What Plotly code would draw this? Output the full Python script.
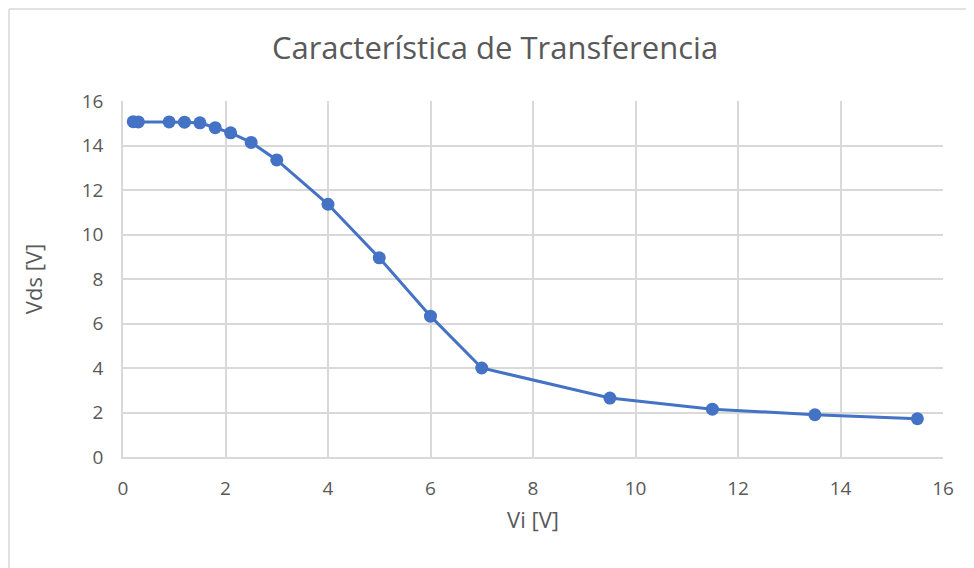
import plotly.graph_objects as go

vi = [0.2, 0.3, 0.9, 1.2, 1.5, 1.8, 2.1, 2.5, 3, 4, 5, 6, 7, 9.5, 11.5, 13.5, 15.5]
vds = [15.07, 15.06, 15.06, 15.05, 15.02, 14.8, 14.57, 14.14, 13.35, 11.36, 8.95, 6.33, 4.0, 2.65, 2.15, 1.9, 1.72]

title_text = "Característica de Transferencia"
x_title = "Vi [V]"
y_title = "Vds [V]"

# page body has an 8px margin, so compensate
OFF = 8
W, H = 974, 568
L, T = 123 - OFF, 101 - OFF
pw, ph = 820, 356
R = W - L - pw
B = H - T - ph

def px(xfig):
    return (xfig - L) / pw

def py(yfig):
    return (H - B - yfig) / ph

fig = go.Figure()
fig.add_trace(go.Scatter(
    x=vi, y=vds, mode="lines+markers",
    line=dict(color="#4472C4", width=3),
    marker=dict(color="#4472C4", size=13),
    showlegend=False,
))

font_family = "Open Sans, Lato, sans-serif"
gray = "#595959"

fig.update_layout(
    width=W, height=H,
    margin=dict(l=L, r=R, t=T, b=B),
    paper_bgcolor="white", plot_bgcolor="white",
    font=dict(family=font_family, color=gray),
    title=dict(text=title_text, x=(495 - OFF) / W, xanchor="center", y=1 - (48 - OFF) / H, yanchor="middle",
               font=dict(size=31, color=gray, family=font_family)),
    xaxis=dict(range=[0, 16], dtick=2, tick0=0, showgrid=True, gridcolor="#d9d9d9", gridwidth=1.5,
               zeroline=False, showline=True, linecolor="#d9d9d9", linewidth=1.5, mirror=False,
               ticks="", tickfont=dict(size=19, color=gray), ticklabelstandoff=13,
               title=dict(text=x_title, font=dict(size=22, color=gray), standoff=13)),
    yaxis=dict(range=[0, 16], dtick=2, tick0=0, showgrid=True, gridcolor="#d9d9d9", gridwidth=1.5,
               zeroline=False, showline=True, linecolor="#d9d9d9", linewidth=1.5,
               ticks="", tickfont=dict(size=19, color=gray), ticklabelstandoff=14,
               title=dict(text=y_title, font=dict(size=22, color=gray), standoff=33)),
    shapes=[
        dict(type="line", xref="paper", yref="paper", x0=px(1), x1=px(1), y0=py(1), y1=py(H + 20),
             line=dict(color="#d9d9d9", width=1.5)),
        dict(type="line", xref="paper", yref="paper", x0=px(1), x1=px(W + 20), y0=py(1), y1=py(1),
             line=dict(color="#d9d9d9", width=1.5)),
    ],
)

fig.write_html("out.html")
